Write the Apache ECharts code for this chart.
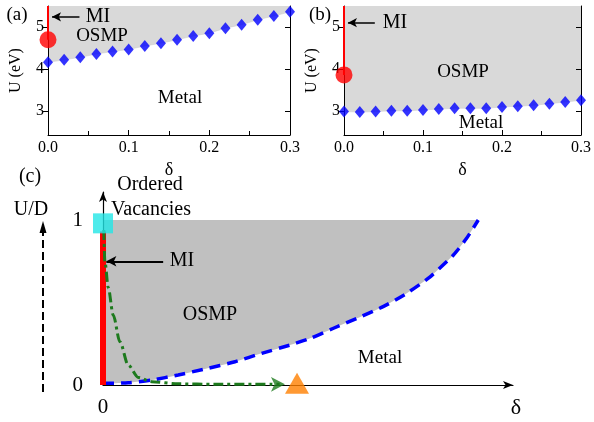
<!DOCTYPE html>
<html>
<head>
<meta charset="utf-8">
<script src="https://cdn.jsdelivr.net/npm/echarts@6/dist/echarts.min.js"></script>
<style>
html, body { margin: 0; padding: 0; background: #fff; }
#chart { width: 594px; height: 422px; }
</style>
</head>
<body>
<div id="chart"></div>
<script>
// panels (a) and (b): delta values and the boundary U (eV)
var delta = [0, 0.02, 0.04, 0.06, 0.08, 0.1, 0.12, 0.14, 0.16, 0.18, 0.2, 0.22, 0.24, 0.26, 0.28, 0.3];
var uA = [4.16, 4.22, 4.28, 4.36, 4.42, 4.47, 4.55, 4.62, 4.70, 4.79, 4.86, 4.98, 5.06, 5.18, 5.27, 5.37];
var uB = [2.98, 2.97, 2.98, 3.00, 3.00, 3.02, 3.04, 3.06, 3.06, 3.06, 3.09, 3.11, 3.13, 3.17, 3.21, 3.25];
var dotA = 4.70;
var dotB = 3.86;
var uTicks = [3, 4, 5];

// panel (c): schematic curves
var blueX = [0, 0.067, 0.13, 0.2, 0.271, 0.351, 0.422, 0.497, 0.551, 0.613, 0.675, 0.745, 0.808, 0.87, 0.932, 0.967, 0.998];
var blueY = [0.01, 0.014, 0.03, 0.061, 0.097, 0.141, 0.192, 0.242, 0.283, 0.344, 0.404, 0.475, 0.556, 0.656, 0.788, 0.889, 1.0];
var greenX = [0.002, 0.005, 0.014, 0.027, 0.045, 0.067, 0.094, 0.13, 0.2, 0.3, 0.47];
var greenY = [0.94, 0.75, 0.59, 0.425, 0.262, 0.121, 0.045, 0.02, 0.007, 0.004, 0.004];
var miLineC = 0.93;
var triangleX = 0.516;

function zip(xs, ys) {
    return xs.map(function (x, i) { return [x, ys[i]]; });
}

var serif = '"Liberation Serif", "Times New Roman", serif';
var black = '#000';

function xAxisAB(grid) {
    return {
        gridIndex: grid, type: 'value', min: 0, max: 0.3, interval: 0.1, z: 5,
        name: 'δ', nameLocation: 'middle', nameGap: 26,
        nameTextStyle: { fontFamily: serif, fontSize: 18, color: black },
        axisLine: { lineStyle: { color: black, width: 1 } },
        axisTick: { inside: true, length: 5, lineStyle: { color: black } },
        minorTick: { show: true, splitNumber: 2, length: 4, lineStyle: { color: black } },
        axisLabel: { fontFamily: serif, fontSize: 16, color: black, margin: 5,
            formatter: function (v) { return v.toFixed(1); } },
        splitLine: { show: false }
    };
}

function yAxisAB(grid, right) {
    return {
        gridIndex: grid, type: 'value', min: 2.42, max: 5.51, z: 5,
        position: right ? 'right' : 'left',
        name: right ? '' : 'U (eV)', nameLocation: 'middle', nameGap: 24, nameRotate: 90,
        nameTextStyle: { fontFamily: serif, fontSize: 16, color: black },
        axisLine: { show: true, lineStyle: { color: black, width: 1 } },
        axisTick: { show: true, inside: right, length: 5, customValues: uTicks, lineStyle: { color: black } },
        axisLabel: { show: !right, fontFamily: serif, fontSize: 16, color: black, margin: 4, customValues: uTicks },
        splitLine: { show: false }
    };
}

function panelSeries(grid, yIdx, us, dot, miY) {
    return [
        {
            type: 'line', xAxisIndex: grid, yAxisIndex: yIdx, data: zip(delta, us),
            symbol: 'none', lineStyle: { width: 0.5, color: '#c8c8c8' },
            areaStyle: { color: '#d9d9d9', opacity: 1, origin: 'end' }, z: 1, silent: true
        },
        {
            type: 'scatter', xAxisIndex: grid, yAxisIndex: yIdx, data: zip(delta, us),
            symbol: 'diamond', symbolSize: [10, 12], itemStyle: { color: '#0000ff' }, z: 6
        },
        {
            type: 'line', xAxisIndex: grid, yAxisIndex: yIdx, data: [[0, dot], [0, 5.51]],
            symbol: 'none', lineStyle: { color: '#ff0000', width: 2 }, z: 7,
            markLine: {
                silent: true, symbol: ['none', 'arrow'], symbolSize: [7, 9],
                lineStyle: { color: black, width: 1.5, type: 'solid' }, label: { show: false },
                data: [[{ coord: [0.039, miY] }, { coord: [0.005, miY] }]]
            }
        },
        {
            type: 'scatter', xAxisIndex: grid, yAxisIndex: yIdx, data: [[0, dot]],
            symbol: 'circle', symbolSize: 17, itemStyle: { color: '#ff0000' }, z: 8
        }
    ];
}

function txt(text, x, y, size) {
    return {
        type: 'text', z: 20,
        style: { text: text, x: x, y: y, font: size + 'px ' + serif, fill: black,
            align: 'center', verticalAlign: 'middle' }
    };
}

var series = [].concat(
    panelSeries(0, 0, uA, dotA, 5.25),
    panelSeries(1, 2, uB, dotB, 5.11),
    [
        {
            type: 'line', xAxisIndex: 2, yAxisIndex: 4, data: zip(blueX, blueY),
            smooth: 0.2, symbol: 'none', lineStyle: { width: 0 },
            areaStyle: { color: '#c0c0c0', opacity: 1, origin: 1 }, z: 1, silent: true
        },
        {
            type: 'line', xAxisIndex: 2, yAxisIndex: 4, data: zip(blueX, blueY),
            smooth: 0.2, symbol: 'none',
            lineStyle: { color: '#0000ff', width: 3.5, type: [11, 7] }, z: 6
        },
        {
            type: 'line', xAxisIndex: 2, yAxisIndex: 4, data: [[0, 0], [0, miLineC]],
            symbol: 'none', lineStyle: { color: '#ff0000', width: 6 }, z: 7,
            markLine: {
                silent: true, symbol: ['none', 'arrow'], symbolSize: [8, 10],
                lineStyle: { color: black, width: 2, type: 'solid' }, label: { show: false },
                data: [[{ coord: [0.16, 0.75] }, { coord: [0.009, 0.75] }]]
            }
        },
        {
            type: 'line', xAxisIndex: 2, yAxisIndex: 4, data: zip(greenX, greenY),
            smooth: 0.3, smoothMonotone: 'x', symbol: 'none',
            lineStyle: { color: '#1d7a1d', width: 3, type: [10, 4, 3, 4] }, z: 8
        },
        {
            type: 'scatter', xAxisIndex: 2, yAxisIndex: 4, data: [[0.484, 0.004]],
            symbol: 'arrow', symbolRotate: -90, symbolSize: [11, 14],
            itemStyle: { color: '#1d7a1d' }, z: 9
        },
        {
            type: 'scatter', xAxisIndex: 2, yAxisIndex: 4, data: [[triangleX, 0.01]],
            symbol: 'triangle', symbolSize: [24, 21], itemStyle: { color: '#ff8000' }, z: 10
        },
        {
            type: 'scatter', xAxisIndex: 2, yAxisIndex: 4, data: [[0, 0.98]],
            symbol: 'rect', symbolSize: 20, itemStyle: { color: '#22e6e6' }, z: 10
        }
    ]
);

var chart = echarts.init(document.getElementById('chart'));
chart.setOption({
    backgroundColor: '#fff',
    animation: false,
    textStyle: { fontFamily: serif },
    grid: [
        { left: 48, top: 6, width: 242, height: 129 },
        { left: 344, top: 6, width: 242, height: 129 },
        { left: 103, top: 192, width: 410, height: 193 }
    ],
    xAxis: [
        xAxisAB(0),
        xAxisAB(1),
        {
            gridIndex: 2, type: 'value', min: 0, max: 1.0904, z: 5,
            axisLine: { symbol: ['none', 'arrow'], symbolSize: [6, 10], lineStyle: { color: black, width: 1.2 } },
            axisTick: { show: false },
            axisLabel: { fontFamily: serif, fontSize: 21, color: black, margin: 12, customValues: [0] },
            splitLine: { show: false }
        }
    ],
    yAxis: [
        yAxisAB(0, false),
        yAxisAB(0, true),
        yAxisAB(1, false),
        yAxisAB(1, true),
        {
            gridIndex: 2, type: 'value', min: 0, max: 1.17, z: 5,
            axisLine: { show: true, symbol: ['none', 'arrow'], symbolSize: [6, 10], lineStyle: { color: black, width: 1.2 } },
            axisTick: { show: false },
            axisLabel: { fontFamily: serif, fontSize: 21, color: black, margin: 20, customValues: [0, 1] },
            splitLine: { show: false }
        }
    ],
    series: series,
    graphic: [
        txt('(a)', 17, 15, 19),
        txt('MI', 98, 17, 20),
        txt('OSMP', 102, 36, 19),
        txt('Metal', 180, 98, 19),
        txt('(b)', 320, 15, 19),
        txt('MI', 395, 23, 20),
        txt('OSMP', 463, 72, 19),
        txt('Metal', 481, 123, 19),
        txt('(c)', 30, 177, 20),
        txt('Ordered', 150, 185, 20),
        txt('Vacancies', 151, 210, 20),
        txt('U/D', 31, 210, 20),
        txt('MI', 182, 261, 20),
        txt('OSMP', 210, 315, 20),
        txt('Metal', 380, 358, 19),
        txt('δ', 516, 408, 22),
        {
            type: 'line', z: 20,
            shape: { x1: 43, y1: 392, x2: 43, y2: 230 },
            style: { stroke: black, lineWidth: 2, lineDash: [8, 4] }
        },
        {
            type: 'polygon', z: 20,
            shape: { points: [[43, 221], [39.5, 233], [46.5, 233]] },
            style: { fill: black }
        }
    ]
});
</script>
</body>
</html>
